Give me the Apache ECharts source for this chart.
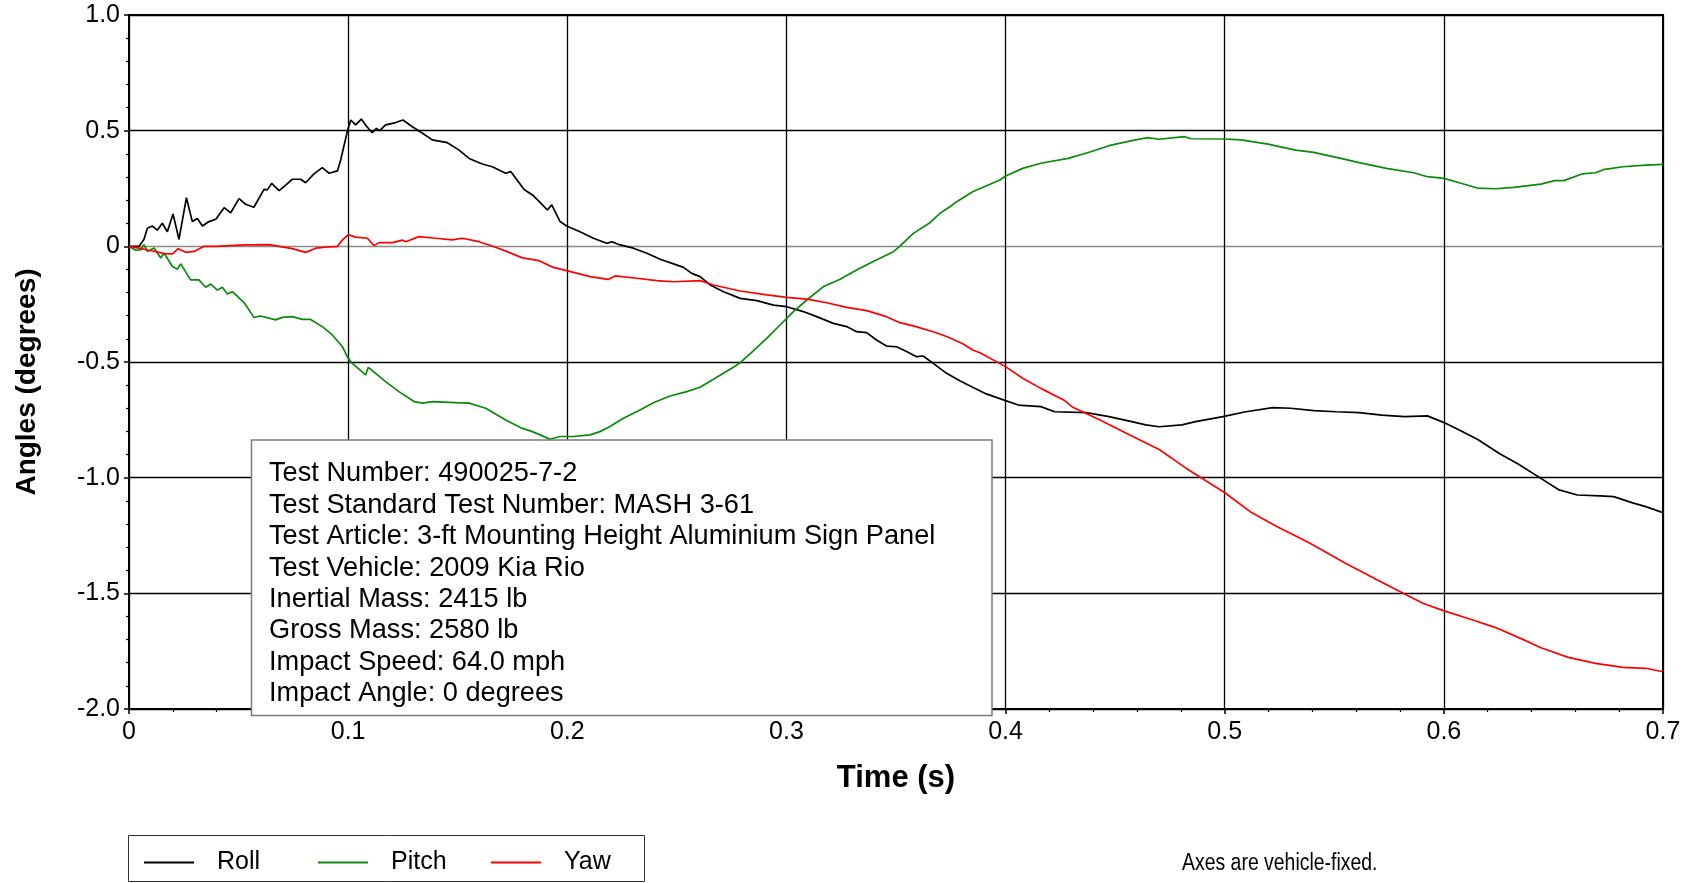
<!DOCTYPE html>
<html>
<head>
<meta charset="utf-8">
<script src="https://cdn.jsdelivr.net/npm/echarts@6/dist/echarts.min.js"></script>
<style>
html,body{margin:0;padding:0;background:#fff;}
#chart{width:1692px;height:883px;}
</style>
</head>
<body>
<div id="chart"></div>
<script>
// ---- data (time in s, angle in degrees) ----
const roll = [[0,0],[0.0046,0],[0.0068,0.03],[0.0084,0.078],[0.0106,0.088],[0.0129,0.07],[0.0152,0.10],[0.0175,0.063],[0.0201,0.14],[0.0228,0.03],[0.0262,0.21],[0.0289,0.107],[0.0312,0.12],[0.0335,0.088],[0.0365,0.107],[0.0396,0.117],[0.0434,0.167],[0.0464,0.145],[0.0502,0.206],[0.0532,0.182],[0.057,0.169],[0.0616,0.246],[0.0631,0.244],[0.0651,0.272],[0.0685,0.241],[0.0715,0.265],[0.0745,0.29],[0.0783,0.29],[0.0806,0.275],[0.0844,0.313],[0.0882,0.34],[0.0913,0.316],[0.0951,0.326],[0.0966,0.373],[0.0996,0.496],[0.1012,0.546],[0.1034,0.525],[0.106,0.55],[0.1083,0.52],[0.111,0.491],[0.1129,0.51],[0.1144,0.5],[0.1171,0.525],[0.1217,0.535],[0.125,0.546],[0.1293,0.517],[0.1339,0.489],[0.1384,0.46],[0.1453,0.448],[0.1506,0.416],[0.1552,0.38],[0.1612,0.356],[0.1658,0.344],[0.1719,0.316],[0.1742,0.323],[0.1803,0.246],[0.1841,0.222],[0.1876,0.19],[0.1909,0.157],[0.1929,0.179],[0.1967,0.107],[0.1997,0.088],[0.2058,0.063],[0.2119,0.035],[0.218,0.013],[0.2203,0.02],[0.2241,0.006],[0.2302,-0.008],[0.2363,-0.03],[0.2424,-0.056],[0.2485,-0.076],[0.253,-0.091],[0.2568,-0.117],[0.2606,-0.131],[0.2652,-0.167],[0.2713,-0.196],[0.2789,-0.225],[0.2865,-0.235],[0.2941,-0.254],[0.3001,-0.261],[0.3077,-0.282],[0.3138,-0.304],[0.3214,-0.333],[0.3275,-0.347],[0.332,-0.369],[0.3366,-0.373],[0.3411,-0.405],[0.3457,-0.431],[0.3503,-0.434],[0.3548,-0.455],[0.3594,-0.477],[0.3624,-0.474],[0.367,-0.506],[0.3731,-0.549],[0.3791,-0.581],[0.3852,-0.61],[0.3912,-0.638],[0.4,-0.667],[0.4058,-0.686],[0.4161,-0.693],[0.4224,-0.715],[0.4369,-0.719],[0.4472,-0.736],[0.4576,-0.758],[0.4639,-0.772],[0.4701,-0.78],[0.4805,-0.772],[0.4867,-0.758],[0.4992,-0.736],[0.5096,-0.715],[0.5219,-0.697],[0.5302,-0.7],[0.5406,-0.71],[0.551,-0.715],[0.5613,-0.719],[0.5717,-0.73],[0.5821,-0.736],[0.5925,-0.733],[0.6001,-0.762],[0.607,-0.794],[0.6153,-0.834],[0.6257,-0.898],[0.6339,-0.941],[0.6443,-1.003],[0.6526,-1.053],[0.6609,-1.075],[0.6713,-1.079],[0.6775,-1.082],[0.6858,-1.108],[0.6921,-1.125],[0.7,-1.151]];

const pitch = [[0,0],[0.003,-0.017],[0.0053,-0.015],[0.0068,0.007],[0.0084,-0.022],[0.0114,-0.007],[0.0145,-0.05],[0.016,-0.029],[0.0198,-0.087],[0.0221,-0.099],[0.0236,-0.076],[0.0281,-0.145],[0.0319,-0.145],[0.035,-0.177],[0.0373,-0.163],[0.0403,-0.189],[0.0426,-0.177],[0.0449,-0.206],[0.0472,-0.196],[0.0525,-0.243],[0.057,-0.307],[0.0601,-0.301],[0.0669,-0.318],[0.07,-0.307],[0.0745,-0.304],[0.0791,-0.316],[0.0829,-0.316],[0.0882,-0.347],[0.0928,-0.383],[0.0974,-0.434],[0.0996,-0.477],[0.1019,-0.506],[0.108,-0.556],[0.1092,-0.523],[0.1171,-0.585],[0.1232,-0.628],[0.1301,-0.671],[0.1339,-0.678],[0.1384,-0.671],[0.1491,-0.676],[0.1552,-0.678],[0.1628,-0.7],[0.1719,-0.751],[0.1795,-0.787],[0.1841,-0.801],[0.1876,-0.815],[0.1921,-0.834],[0.1967,-0.822],[0.2027,-0.822],[0.2104,-0.815],[0.2149,-0.801],[0.2195,-0.779],[0.2256,-0.743],[0.2332,-0.707],[0.2393,-0.676],[0.2469,-0.647],[0.2545,-0.628],[0.2606,-0.609],[0.2667,-0.575],[0.2758,-0.523],[0.2789,-0.503],[0.285,-0.451],[0.291,-0.398],[0.2971,-0.34],[0.3032,-0.282],[0.3093,-0.232],[0.3169,-0.174],[0.3245,-0.142],[0.332,-0.102],[0.3396,-0.066],[0.3488,-0.023],[0.3518,0.001],[0.3579,0.056],[0.3655,0.102],[0.3701,0.143],[0.3746,0.171],[0.3777,0.193],[0.385,0.236],[0.3974,0.287],[0.4,0.304],[0.4078,0.337],[0.4161,0.359],[0.4286,0.38],[0.4389,0.409],[0.4472,0.435],[0.4576,0.457],[0.4648,0.47],[0.4701,0.463],[0.4815,0.474],[0.4846,0.465],[0.5001,0.464],[0.5074,0.46],[0.5198,0.442],[0.5323,0.416],[0.5406,0.406],[0.553,0.38],[0.5613,0.362],[0.5738,0.337],[0.5862,0.318],[0.5925,0.301],[0.6001,0.294],[0.607,0.275],[0.6153,0.252],[0.6236,0.249],[0.6319,0.255],[0.6443,0.269],[0.6505,0.284],[0.6547,0.284],[0.663,0.313],[0.6692,0.318],[0.6734,0.333],[0.6817,0.344],[0.6921,0.351],[0.7,0.354]];

const yaw = [[0,0],[0.0046,-0.008],[0.0091,-0.017],[0.0137,-0.026],[0.016,-0.032],[0.0198,-0.033],[0.0225,-0.01],[0.0259,-0.026],[0.0297,-0.022],[0.0342,0],[0.0396,0],[0.0456,0.003],[0.0532,0.006],[0.0639,0.007],[0.0685,0],[0.0745,-0.01],[0.0806,-0.026],[0.0852,-0.008],[0.0897,-0.004],[0.0951,0],[0.0974,0.028],[0.1001,0.05],[0.1034,0.04],[0.1088,0.035],[0.1118,0.003],[0.1141,0.016],[0.1202,0.016],[0.1247,0.027],[0.1263,0.02],[0.1323,0.042],[0.1399,0.035],[0.1476,0.028],[0.1521,0.035],[0.1597,0.02],[0.1673,-0.004],[0.1734,-0.026],[0.1795,-0.05],[0.1871,-0.062],[0.1936,-0.091],[0.1997,-0.105],[0.2104,-0.131],[0.2187,-0.143],[0.2218,-0.128],[0.2317,-0.138],[0.2408,-0.148],[0.2485,-0.153],[0.2606,-0.148],[0.2667,-0.167],[0.2789,-0.193],[0.2911,-0.21],[0.3001,-0.221],[0.3093,-0.228],[0.3184,-0.244],[0.3275,-0.264],[0.3366,-0.278],[0.3457,-0.304],[0.3518,-0.33],[0.3579,-0.344],[0.367,-0.369],[0.3731,-0.39],[0.3807,-0.422],[0.385,-0.448],[0.3883,-0.46],[0.4,-0.52],[0.4078,-0.57],[0.4161,-0.614],[0.4265,-0.664],[0.4307,-0.696],[0.4431,-0.751],[0.4576,-0.82],[0.4701,-0.878],[0.4825,-0.96],[0.5001,-1.065],[0.5116,-1.147],[0.524,-1.212],[0.5385,-1.281],[0.5551,-1.37],[0.5697,-1.442],[0.5821,-1.503],[0.5904,-1.543],[0.6001,-1.576],[0.6132,-1.615],[0.6236,-1.648],[0.636,-1.699],[0.6443,-1.735],[0.6568,-1.777],[0.6692,-1.803],[0.6817,-1.82],[0.6921,-1.824],[0.7,-1.839]];

const seriesNames = ['Roll', 'Pitch', 'Yaw'];
const infoLines = [
  'Test Number: 490025-7-2',
  'Test Standard Test Number: MASH 3-61',
  'Test Article: 3-ft Mounting Height Aluminium Sign Panel',
  'Test Vehicle: 2009 Kia Rio',
  'Inertial Mass: 2415 lb',
  'Gross Mass: 2580 lb',
  'Impact Speed: 64.0 mph',
  'Impact Angle: 0 degrees'
];
const noteText = 'Axes are vehicle-fixed.';
const xName = 'Time (s)';
const yName = 'Angles (degrees)';

// ---- layout ----
const G = {left:129, top:15, width:1534, height:694};
const FONT = '"Liberation Sans", Arial, sans-serif';
const colors = ['#000000', '#0a8a0a', '#ff0000'];
const legendLefts = [144, 318, 491];

const chart = echarts.init(document.getElementById('chart'), null, {renderer:'canvas'});
const fmt = v => (Math.abs(v) < 1e-9 ? '0' : v.toFixed(1));

const option = {
  backgroundColor: '#ffffff',
  animation: false,
  grid: {left:G.left, top:G.top, width:G.width, height:G.height, containLabel:false,
         show:true, borderColor:'#000', borderWidth:2, backgroundColor:'transparent'},
  legend: seriesNames.map((n, i) => ({
    left: legendLefts[i], top: 850, padding: 0,
    itemWidth: 50, itemHeight: 2, icon: 'rect',
    textStyle: {fontFamily: FONT, fontSize: 25, color: '#000', padding: [0, 0, 0, 18]},
    data: [n]
  })),
  xAxis: {
    type: 'value', min: 0, max: 0.7, interval: 0.1,
    name: xName, nameLocation: 'middle', nameGap: 54,
    nameTextStyle: {fontFamily: FONT, fontSize: 31, fontWeight: 'bold', color: '#000'},
    axisLine: {show: true, onZero: false, lineStyle: {color: '#000', width: 2}},
    axisTick: {show: true, inside: false, length: 5, lineStyle: {color: '#000', width: 1.5}},
    minorTick: {show: true, splitNumber: 5, length: 3, lineStyle: {color: '#000', width: 1.2}},
    splitLine: {show: true, lineStyle: {color: '#000', width: 1.3}},
    axisLabel: {fontFamily: FONT, fontSize: 25, color: '#000', margin: 11, formatter: fmt,
                showMinLabel: true, showMaxLabel: true, hideOverlap: false}
  },
  yAxis: {
    type: 'value', min: -2.0, max: 1.0, interval: 0.5,
    name: yName, nameLocation: 'middle', nameGap: 88,
    nameTextStyle: {fontFamily: FONT, fontSize: 28, fontWeight: 'bold', color: '#000', padding: [0, 40, 0, 0]},
    axisLine: {show: true, onZero: false, lineStyle: {color: '#000', width: 2}},
    axisTick: {show: true, inside: false, length: 5, lineStyle: {color: '#000', width: 1.5}},
    minorTick: {show: true, splitNumber: 5, length: 3, lineStyle: {color: '#000', width: 1.2}},
    splitLine: {show: true, lineStyle: {color: ['#000','#000','#000','#000','#8a8a8a','#000','#000'], width: 1.3}},
    axisLabel: {fontFamily: FONT, fontSize: 25, color: '#000', margin: 9, formatter: fmt,
                padding: [5, 0, 0, 0],
                showMinLabel: true, showMaxLabel: true, hideOverlap: false}
  },
  series: [roll, pitch, yaw].map((d, i) => ({
    name: seriesNames[i], type: 'line', data: d, showSymbol: false, symbol: 'none',
    smooth: false, clip: true,
    itemStyle: {color: colors[i]},
    lineStyle: {color: colors[i], width: 1.7},
    z: 3 + i
  })),
  graphic: [
    {
      type: 'group', z: 100,
      children: [
        {type: 'rect', shape: {x: 251.5, y: 440, width: 740.5, height: 275.5},
         style: {fill: '#fff', stroke: '#7a7a7a', lineWidth: 1.5}, z: 100},
        {type: 'text', x: 269, y: 458, z: 101,
         style: {text: infoLines.join('\n'), fill: '#000', font: '27.2px ' + FONT,
                 lineHeight: 31.45, verticalAlign: 'top', align: 'left'}}
      ]
    },
    {type: 'rect', z: 100, shape: {x: 128.5, y: 835.5, width: 516, height: 46},
     style: {fill: 'none', stroke: '#333', lineWidth: 1}},
    {type: 'text', x: 1182, y: 852, z: 100, scaleX: 0.845,
     style: {text: noteText, fill: '#000', font: '23px ' + FONT,
             verticalAlign: 'top', align: 'left'}}
  ]
};
chart.setOption(option);
</script>
</body>
</html>
